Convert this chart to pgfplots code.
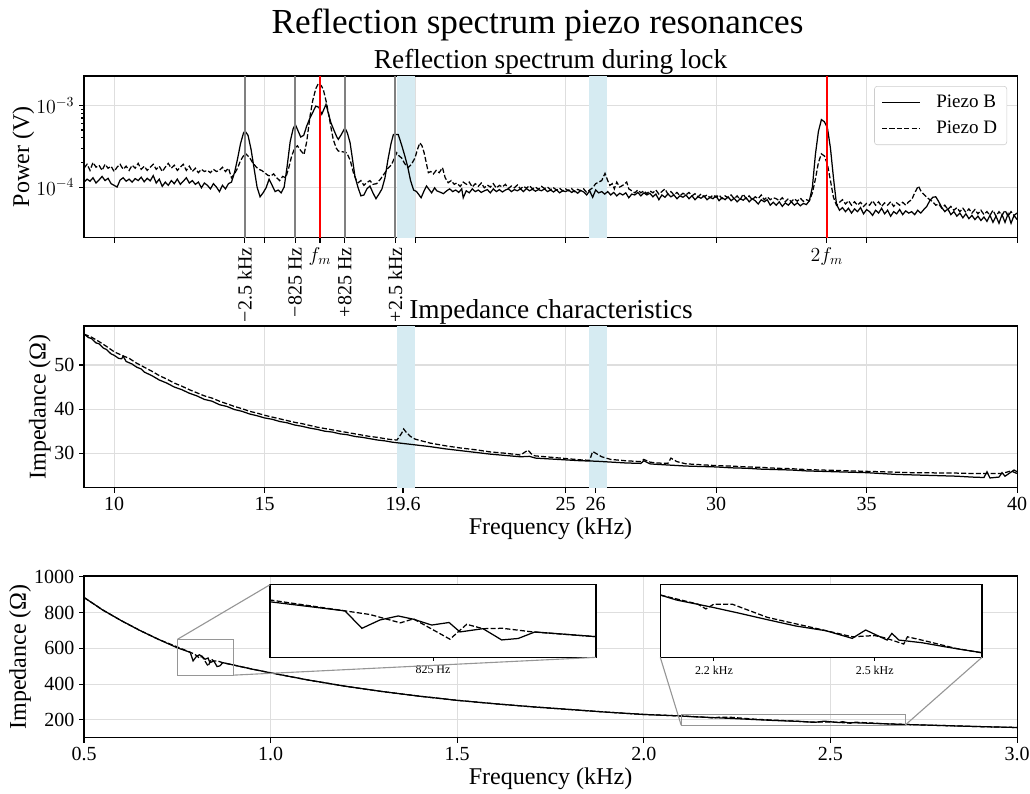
\documentclass[border=0pt]{standalone}
\usepackage{fontspec}
\setmainfont{Liberation Serif}
\usepackage{graphicx}
\usepackage{pgfplots}
\pgfplotsset{compat=1.18}
\usepackage{pgfplotstable}
\definecolor{spanblue}{RGB}{214,235,242}
\definecolor{gridgray}{RGB}{222,222,222}
\definecolor{vgray}{RGB}{128,128,128}
\definecolor{lgdgray}{RGB}{204,204,204}
\definecolor{boxgray}{RGB}{150,150,150}

\pgfplotstableread[row sep=\\]{
0.50 885\\ 0.55 815\\ 0.60 755\\ 0.65 700\\ 0.70 650\\ 0.75 603\\ 0.7845 578\\ 0.7923 530\\ 0.8006 553\\ 0.809 564\\ 0.816 555\\ 0.8244 539\\ 0.8324 546\\ 0.8374 520\\ 0.848 529\\ 0.8566 498\\ 0.8642 502\\ 0.8719 520\\ 0.90 507\\ 0.95 484\\ 1.00 463\\ 1.10 423\\ 1.20 388\\ 1.30 358\\ 1.40 332\\ 1.50 309\\ 1.60 290\\ 1.70 273\\ 1.80 258\\ 1.90 243\\ 2.00 230\\ 2.10 221.5\\ 2.13 217.4\\ 2.198 211.3\\ 2.248 206.4\\ 2.297 201.4\\ 2.353 195.9\\ 2.409 192\\ 2.458 185.7\\ 2.483 192.6\\ 2.523 184.3\\ 2.532 189.8\\ 2.545 184.3\\ 2.588 182.1\\ 2.637 178.3\\ 2.70 173.8\\ 2.80 168\\ 2.90 162\\ 3.00 157\\
}\botB
\pgfplotstableread[row sep=\\]{
0.50 885\\ 0.55 815\\ 0.60 755\\ 0.65 700\\ 0.70 650\\ 0.75 608\\ 0.796 568\\ 0.81 545\\ 0.816 556\\ 0.8328 500\\ 0.8405 541\\ 0.848 529\\ 0.857 530\\ 0.871 520\\ 0.90 507\\ 0.95 484\\ 1.00 463\\ 1.10 423\\ 1.20 388\\ 1.30 358\\ 1.40 332\\ 1.50 309\\ 1.60 290\\ 1.70 273\\ 1.80 258\\ 1.90 243\\ 2.00 230\\ 2.10 221.5\\ 2.17 214\\ 2.185 210\\ 2.2 214\\ 2.235 213.8\\ 2.3 203\\ 2.4 193\\ 2.458 187\\ 2.5 188\\ 2.52 186\\ 2.554 181\\ 2.561 187\\ 2.6 183\\ 2.65 177.5\\ 2.70 173.8\\ 2.80 168\\ 2.90 162\\ 3.00 157\\
}\botD

\pgfplotsset{
  myaxis/.style={
    scale only axis, width=671.8bp, height=116.4bp,
    anchor=north west,
    axis line style={black, line width=0.8bp},
    tick align=outside, tick style={black, line width=0.8bp},
    major tick length=3.5bp, minor tick length=2bp,
    xtick pos=bottom, ytick pos=left,
    grid=major, major grid style={gridgray, line width=0.8bp},
    tick label style={font=\fontsize{14.4bp}{16bp}\selectfont},
    label style={font=\fontsize{17.3bp}{20bp}\selectfont},
    /pgf/number format/assume math mode=true,
    /pgf/number format/1000 sep={},
  },
  inset/.style={
    scale only axis, anchor=north west,
    axis background/.style={fill=white},
    axis line style={black, line width=0.8bp},
    tick align=outside, tick style={black, line width=0.6bp},
    major tick length=2.5bp,
    xtick pos=bottom, ytick=\empty,
    tick label style={font=\fontsize{8.6bp}{10bp}\selectfont},
  },
  sB/.style={black, line width=0.9bp},
  sD/.style={black, line width=0.9bp, dash pattern=on 3.7bp off 1.6bp},
}

\begin{document}
\begin{tikzpicture}
\path[use as bounding box] (0,0) rectangle (741.6bp,-571bp);

\node[font=\fontsize{25.3bp}{30bp}\selectfont, anchor=base] at (387bp,-23.8bp) {Reflection spectrum piezo resonances};
\node[font=\fontsize{19.7bp}{24bp}\selectfont, anchor=base] at (396.4bp,-49bp) {Reflection spectrum during lock};

% ---------------- top panel ----------------
\begin{axis}[myaxis, at={(60.48bp,-54.72bp)},
  ymode=log, xmin=9, xmax=40, ymin=2.4e-5, ymax=2.29e-3,
  xtick={10,15,20,25,30,35,40}, xticklabels={},
  extra x ticks={14.34,16.015,16.84,17.665,19.34,33.68},
  extra x tick labels={\rotatebox{90}{−2.5 kHz},\rotatebox{90}{−825 Hz},$f_m$,\rotatebox{90}{+825 Hz},\rotatebox{90}{+2.5 kHz},$2f_m$},
  extra x tick style={grid=none},
  ytick={1e-4,1e-3},
  ylabel={Power (V)},
  ylabel style={at={(axis description cs:-0.065,0.5)}, anchor=center},
  legend style={at={(1,1)}, anchor=north east, xshift=-7.2bp, yshift=-7.2bp,
    draw=lgdgray, fill=white, rounded corners=2bp,
    font=\fontsize{13.7bp}{16bp}\selectfont, inner xsep=5bp, inner ysep=4.5bp, row sep=4bp,
    /tikz/every odd column/.append style={column sep=9bp}},
  legend cell align=left,
  legend image code/.code={\draw[#1] (0bp,0bp) -- (27.6bp,0bp);},
]
\addplot[draw=none, fill=spanblue, forget plot] coordinates {(19.4,1e-6) (20.0,1e-6) (20.0,1) (19.4,1)};
\addplot[draw=none, fill=spanblue, forget plot] coordinates {(25.78,1e-6) (26.38,1e-6) (26.38,1) (25.78,1)};

\addplot[sB] table[row sep=\\, y expr=\thisrowno{1}*1e-4] {
9.0 1.15\\ 9.1 1.25\\ 9.2 1.18\\ 9.3 1.30\\ 9.4 1.12\\ 9.5 1.22\\ 9.6 1.35\\ 9.7 1.20\\ 9.8 1.28\\ 9.9 1.10\\ 10.0 1.05\\ 10.1 1.0\\ 10.2 1.22\\ 10.3 1.30\\ 10.4 1.18\\ 10.5 1.25\\ 10.6 1.15\\ 10.7 1.27\\ 10.8 1.20\\ 10.9 1.32\\ 11.0 1.16\\ 11.1 1.28\\ 11.2 1.19\\ 11.3 1.38\\ 11.4 1.12\\ 11.5 1.25\\ 11.6 1.02\\ 11.7 1.15\\ 11.8 1.05\\ 11.9 1.20\\ 12.0 1.10\\ 12.1 1.25\\ 12.2 1.08\\ 12.3 1.18\\ 12.4 1.30\\ 12.5 1.12\\ 12.6 1.20\\ 12.7 1.08\\ 12.8 1.15\\ 12.9 0.98\\ 13.0 1.12\\ 13.1 1.05\\ 13.2 0.95\\ 13.3 1.10\\ 13.4 1.0\\ 13.5 0.88\\ 13.6 1.05\\ 13.7 0.95\\ 13.8 1.10\\ 13.9 1.15\\
14.0 1.5\\ 14.1 2.2\\ 14.2 3.4\\ 14.3 4.6\\ 14.35 4.85\\ 14.45 4.3\\ 14.55 2.9\\ 14.65 1.7\\ 14.75 1.0\\ 14.85 0.76\\ 14.95 0.85\\ 15.05 0.98\\ 15.15 1.25\\ 15.25 1.05\\ 15.35 0.88\\ 15.45 0.92\\ 15.55 0.85\\ 15.65 1.0\\ 15.75 1.8\\ 15.85 3.6\\ 15.95 5.2\\ 16.02 5.85\\ 16.1 5.0\\ 16.2 4.1\\ 16.3 4.3\\ 16.4 5.6\\ 16.5 6.9\\ 16.6 8.2\\ 16.7 9.8\\ 16.8 9.5\\ 16.9 7.8\\ 17.0 9.5\\ 17.04 10.3\\ 17.1 8.5\\ 17.2 6.2\\ 17.3 5.0\\ 17.4 4.1\\ 17.45 3.84\\ 17.55 4.4\\ 17.67 5.3\\ 17.75 4.6\\ 17.84 3.5\\ 17.92 2.2\\ 18.0 1.36\\ 18.1 1.0\\ 18.2 0.78\\ 18.3 0.8\\ 18.4 0.95\\ 18.5 1.03\\ 18.6 0.85\\ 18.7 0.72\\ 18.8 0.82\\ 18.9 0.95\\ 19.0 1.3\\ 19.1 2.18\\ 19.2 3.4\\ 19.28 4.41\\ 19.44 4.4\\ 19.55 3.3\\ 19.66 2.4\\ 19.75 1.8\\ 19.85 1.2\\ 19.95 0.92\\ 20.05 0.88\\ 20.2 0.74\\ 20.3 0.9\\ 20.38 1.03\\ 20.48 0.92\\ 20.55 0.85\\ 20.65 0.98\\ 20.72 0.9\\ 20.85 0.86\\ 20.94 0.83\\ 21.05 0.9\\ 21.15 0.95\\ 21.25 0.88\\ 21.35 0.92\\ 21.45 0.86\\ 21.55 0.95\\ 21.6 0.74\\ 21.7 0.9\\ 21.8 0.85\\ 21.9 0.95\\
22.0 0.88\\ 22.1 0.92\\ 22.2 0.86\\ 22.3 0.9\\ 22.4 0.93\\ 22.5 0.85\\ 22.6 0.95\\ 22.7 0.88\\ 22.8 0.93\\ 22.9 0.87\\ 23.0 0.92\\ 23.1 0.95\\ 23.2 0.88\\ 23.3 0.93\\ 23.4 0.9\\ 23.5 0.95\\ 23.6 0.88\\ 23.7 0.96\\ 23.8 0.9\\ 23.9 0.94\\ 24.0 0.89\\ 24.1 0.93\\ 24.2 0.9\\ 24.3 0.95\\ 24.4 0.88\\ 24.5 0.92\\ 24.6 0.87\\ 24.7 0.93\\ 24.8 0.85\\ 24.9 0.9\\ 25.0 0.88\\ 25.1 0.92\\ 25.2 0.86\\ 25.3 0.9\\ 25.4 0.84\\ 25.5 0.91\\ 25.6 0.87\\ 25.7 0.8\\ 25.8 0.9\\ 25.9 0.75\\ 26.0 0.92\\ 26.1 0.85\\ 26.2 0.88\\ 26.3 0.82\\ 26.4 0.88\\ 26.5 0.8\\ 26.6 0.86\\ 26.7 0.78\\ 26.8 0.84\\ 26.9 0.8\\ 27.0 0.85\\ 27.1 0.74\\ 27.2 0.82\\ 27.3 0.8\\ 27.4 0.86\\ 27.5 0.78\\ 27.6 0.85\\ 27.7 0.8\\ 27.8 0.84\\ 27.9 0.76\\ 28.0 0.82\\ 28.1 0.7\\ 28.2 0.8\\ 28.3 0.75\\ 28.4 0.82\\ 28.5 0.76\\ 28.6 0.8\\ 28.7 0.72\\ 28.8 0.78\\ 28.9 0.75\\ 29.0 0.8\\ 29.1 0.72\\ 29.2 0.78\\ 29.3 0.7\\ 29.4 0.76\\ 29.5 0.73\\ 29.6 0.78\\ 29.7 0.7\\ 29.8 0.75\\ 29.9 0.72\\
30.0 0.78\\ 30.1 0.68\\ 30.2 0.74\\ 30.3 0.7\\ 30.4 0.76\\ 30.5 0.68\\ 30.6 0.73\\ 30.7 0.66\\ 30.8 0.72\\ 30.9 0.69\\ 31.0 0.74\\ 31.1 0.66\\ 31.2 0.72\\ 31.3 0.68\\ 31.4 0.62\\ 31.5 0.7\\ 31.6 0.66\\ 31.7 0.7\\ 31.8 0.6\\ 31.9 0.65\\ 32.0 0.6\\ 32.1 0.66\\ 32.2 0.58\\ 32.3 0.64\\ 32.4 0.6\\ 32.5 0.66\\ 32.6 0.6\\ 32.7 0.64\\ 32.8 0.59\\ 32.9 0.63\\ 33.0 0.61\\ 33.1 0.68\\ 33.2 1.0\\ 33.3 2.5\\ 33.4 4.8\\ 33.5 6.7\\ 33.6 6.3\\ 33.7 5.3\\ 33.8 3.0\\ 33.9 1.3\\ 34.0 0.62\\ 34.1 0.52\\ 34.2 0.56\\ 34.3 0.5\\ 34.4 0.55\\ 34.5 0.48\\ 34.6 0.54\\ 34.7 0.5\\ 34.8 0.56\\ 34.9 0.47\\ 35.0 0.53\\ 35.1 0.5\\ 35.2 0.45\\ 35.3 0.52\\ 35.4 0.48\\ 35.5 0.55\\ 35.6 0.47\\ 35.7 0.52\\ 35.8 0.44\\ 35.9 0.5\\ 36.0 0.47\\ 36.1 0.53\\ 36.2 0.46\\ 36.3 0.51\\ 36.4 0.48\\ 36.5 0.5\\ 36.6 0.46\\ 36.7 0.52\\ 36.8 0.48\\ 36.9 0.53\\ 37.0 0.58\\ 37.1 0.68\\ 37.2 0.75\\ 37.3 0.76\\ 37.4 0.66\\ 37.5 0.56\\ 37.6 0.5\\ 37.7 0.54\\ 37.8 0.46\\ 37.9 0.5\\ 38.0 0.44\\ 38.1 0.48\\ 38.2 0.42\\ 38.3 0.47\\ 38.4 0.41\\ 38.5 0.45\\ 38.6 0.4\\ 38.7 0.44\\ 38.8 0.39\\ 38.9 0.43\\ 39.0 0.38\\ 39.1 0.45\\ 39.2 0.37\\ 39.3 0.44\\ 39.4 0.36\\ 39.5 0.46\\ 39.6 0.37\\ 39.7 0.47\\ 39.8 0.36\\ 39.9 0.45\\ 40.0 0.4\\
};
\addlegendentry{Piezo B}

\addplot[sD] table[row sep=\\, y expr=\thisrowno{1}*1e-4] {
9.0 1.7\\ 9.1 1.9\\ 9.2 1.6\\ 9.3 2.0\\ 9.4 1.75\\ 9.5 1.85\\ 9.6 1.6\\ 9.7 1.9\\ 9.8 1.7\\ 9.9 1.8\\ 10.0 1.55\\ 10.1 1.75\\ 10.2 1.9\\ 10.3 1.65\\ 10.4 1.8\\ 10.5 1.6\\ 10.6 1.85\\ 10.7 1.7\\ 10.8 1.95\\ 10.9 1.65\\ 11.0 1.8\\ 11.1 1.6\\ 11.2 1.75\\ 11.3 1.9\\ 11.4 1.65\\ 11.5 1.8\\ 11.6 1.55\\ 11.7 1.75\\ 11.8 1.95\\ 11.9 1.7\\ 12.0 1.85\\ 12.1 1.6\\ 12.2 1.75\\ 12.3 1.9\\ 12.4 1.6\\ 12.5 1.8\\ 12.6 1.55\\ 12.7 1.7\\ 12.8 1.5\\ 12.9 1.65\\ 13.0 1.55\\ 13.1 1.6\\ 13.2 1.5\\ 13.3 1.65\\ 13.4 1.55\\ 13.5 1.6\\ 13.6 1.75\\ 13.7 1.55\\ 13.8 1.7\\ 13.9 1.3\\
14.0 1.45\\ 14.1 1.7\\ 14.2 2.1\\ 14.35 2.6\\ 14.5 2.3\\ 14.6 2.0\\ 14.7 1.8\\ 14.8 1.65\\ 14.9 1.6\\ 15.0 1.5\\ 15.1 1.4\\ 15.2 1.36\\ 15.3 1.45\\ 15.4 1.3\\ 15.5 1.2\\ 15.6 1.35\\ 15.7 1.3\\ 15.8 1.7\\ 15.9 2.4\\ 16.0 3.0\\ 16.09 3.2\\ 16.2 2.8\\ 16.31 2.5\\ 16.4 3.6\\ 16.51 7.4\\ 16.6 11.5\\ 16.7 16.0\\ 16.79 18.6\\ 16.88 17.5\\ 16.95 15.7\\ 17.05 11.0\\ 17.12 8.1\\ 17.2 5.5\\ 17.28 3.84\\ 17.38 3.0\\ 17.45 2.76\\ 17.6 2.7\\ 17.73 2.63\\ 17.85 2.1\\ 17.95 1.5\\ 18.05 1.2\\ 18.11 1.13\\ 18.2 1.2\\ 18.3 1.05\\ 18.39 1.13\\ 18.5 1.2\\ 18.6 1.08\\ 18.72 1.1\\ 18.85 1.25\\ 19.0 1.5\\ 19.1 1.7\\ 19.22 1.89\\ 19.32 2.3\\ 19.39 2.63\\ 19.47 2.4\\ 19.55 2.28\\ 19.65 1.95\\ 19.77 1.73\\ 19.88 1.9\\ 19.998 2.28\\ 20.08 2.9\\ 20.16 3.48\\ 20.23 3.2\\ 20.3 2.63\\ 20.37 2.0\\ 20.44 1.5\\ 20.52 1.55\\ 20.61 1.45\\ 20.7 1.6\\ 20.8 1.5\\ 20.91 1.73\\ 21.0 1.3\\ 21.1 1.13\\ 21.2 1.2\\ 21.3 1.08\\ 21.38 1.12\\ 21.5 1.02\\ 21.6 1.15\\ 21.71 1.08\\ 21.8 1.15\\ 21.9 1.0\\
22.0 1.1\\ 22.1 1.02\\ 22.2 1.12\\ 22.3 0.98\\ 22.4 1.06\\ 22.5 1.0\\ 22.6 1.1\\ 22.7 0.97\\ 22.8 1.05\\ 22.9 1.0\\ 23.0 1.08\\ 23.1 0.96\\ 23.2 1.03\\ 23.3 0.98\\ 23.4 1.06\\ 23.5 0.95\\ 23.6 1.02\\ 23.7 0.97\\ 23.8 1.04\\ 23.9 0.95\\ 24.0 1.0\\ 24.1 0.94\\ 24.2 1.02\\ 24.3 0.96\\ 24.4 1.0\\ 24.5 0.93\\ 24.6 0.98\\ 24.7 0.92\\ 24.8 0.97\\ 24.9 0.9\\ 25.0 0.95\\ 25.1 0.9\\ 25.2 0.96\\ 25.3 0.88\\ 25.4 0.94\\ 25.5 0.9\\ 25.6 0.95\\ 25.7 0.86\\ 25.8 0.92\\ 25.9 0.98\\ 26.0 1.1\\ 26.1 1.15\\ 26.2 1.2\\ 26.31 1.47\\ 26.4 1.2\\ 26.47 1.05\\ 26.55 1.1\\ 26.62 0.95\\ 26.7 1.15\\ 26.8 1.0\\ 26.9 1.05\\ 27.03 1.15\\ 27.1 0.95\\ 27.2 0.9\\ 27.3 0.85\\ 27.4 0.92\\ 27.5 0.85\\ 27.6 0.9\\ 27.7 0.83\\ 27.8 0.9\\ 27.9 0.85\\ 28.0 0.92\\ 28.1 0.82\\ 28.2 0.88\\ 28.3 0.95\\ 28.4 0.82\\ 28.5 0.88\\ 28.6 0.8\\ 28.7 0.86\\ 28.8 0.78\\ 28.9 0.84\\ 29.0 0.8\\ 29.1 0.86\\ 29.2 0.78\\ 29.3 0.83\\ 29.4 0.76\\ 29.5 0.82\\ 29.6 0.76\\ 29.7 0.8\\ 29.8 0.74\\ 29.9 0.8\\
30.0 0.75\\ 30.1 0.8\\ 30.2 0.72\\ 30.3 0.78\\ 30.4 0.74\\ 30.5 0.8\\ 30.6 0.72\\ 30.7 0.78\\ 30.8 0.7\\ 30.9 0.82\\ 31.0 0.72\\ 31.1 0.78\\ 31.2 0.7\\ 31.3 0.76\\ 31.4 0.72\\ 31.5 0.8\\ 31.6 0.7\\ 31.7 0.76\\ 31.8 0.7\\ 31.9 0.74\\ 32.0 0.72\\ 32.1 0.68\\ 32.2 0.74\\ 32.3 0.66\\ 32.4 0.72\\ 32.5 0.66\\ 32.6 0.72\\ 32.7 0.67\\ 32.8 0.73\\ 32.9 0.67\\ 33.0 0.7\\ 33.1 0.68\\ 33.2 0.85\\ 33.3 1.25\\ 33.4 2.0\\ 33.5 2.55\\ 33.6 2.4\\ 33.7 1.9\\ 33.8 1.2\\ 33.9 0.75\\ 34.0 0.6\\ 34.1 0.65\\ 34.2 0.7\\ 34.3 0.62\\ 34.4 0.68\\ 34.5 0.6\\ 34.6 0.66\\ 34.7 0.6\\ 34.8 0.65\\ 34.9 0.58\\ 35.0 0.63\\ 35.1 0.6\\ 35.2 0.68\\ 35.3 0.6\\ 35.4 0.66\\ 35.5 0.58\\ 35.6 0.64\\ 35.7 0.6\\ 35.8 0.66\\ 35.9 0.58\\ 36.0 0.64\\ 36.1 0.6\\ 36.2 0.65\\ 36.3 0.6\\ 36.4 0.66\\ 36.5 0.7\\ 36.6 0.85\\ 36.72 1.03\\ 36.8 0.9\\ 36.88 0.83\\ 37.0 0.75\\ 37.1 0.7\\ 37.2 0.66\\ 37.3 0.6\\ 37.4 0.62\\ 37.5 0.55\\ 37.6 0.6\\ 37.7 0.53\\ 37.8 0.58\\ 37.9 0.52\\ 38.0 0.56\\ 38.1 0.5\\ 38.2 0.55\\ 38.3 0.49\\ 38.4 0.54\\ 38.5 0.48\\ 38.6 0.53\\ 38.7 0.47\\ 38.8 0.52\\ 38.9 0.46\\ 39.0 0.5\\ 39.1 0.45\\ 39.2 0.52\\ 39.3 0.44\\ 39.4 0.5\\ 39.5 0.45\\ 39.6 0.52\\ 39.7 0.44\\ 39.8 0.5\\ 39.9 0.45\\ 40.0 0.48\\
};
\addlegendentry{Piezo D}

\addplot[vgray, line width=1.3bp, forget plot] coordinates {(14.34,1e-6) (14.34,1)};
\addplot[vgray, line width=1.3bp, forget plot] coordinates {(16.015,1e-6) (16.015,1)};
\addplot[vgray, line width=1.3bp, forget plot] coordinates {(17.665,1e-6) (17.665,1)};
\addplot[vgray, line width=1.3bp, forget plot] coordinates {(19.34,1e-6) (19.34,1)};
\addplot[red, line width=1.3bp, forget plot] coordinates {(16.84,1e-6) (16.84,1)};
\addplot[red, line width=1.3bp, forget plot] coordinates {(33.68,1e-6) (33.68,1)};
\end{axis}

\node[font=\fontsize{19.7bp}{24bp}\selectfont, anchor=base] at (396.7bp,-229bp) {Impedance characteristics};

% ---------------- middle panel ----------------
\begin{axis}[myaxis, at={(60.48bp,-234.72bp)},
  xmin=9, xmax=40, ymin=22.2, ymax=58.83,
  xtick={10,15,19.6,25,26,30,35,40}, xticklabels={10,15,19.6,25,26,30,35,40},
  ytick={30,40,50},
  ylabel={Impedance (Ω)},
  ylabel style={at={(axis description cs:-0.0472,0.5)}, anchor=center},
  xlabel={Frequency (kHz)},
  xlabel style={at={(axis description cs:0.5,0)}, anchor=base, yshift=-34bp},
]
\addplot[draw=none, fill=spanblue, forget plot] coordinates {(19.4,0) (20.0,0) (20.0,100) (19.4,100)};
\addplot[draw=none, fill=spanblue, forget plot] coordinates {(25.78,0) (26.38,0) (26.38,100) (25.78,100)};
\addplot[sB] table[row sep=\\] {
9.0 57.0\\ 9.15 56.2\\ 9.25 56.0\\ 9.4 55.0\\ 9.5 54.8\\ 9.65 53.8\\ 9.75 53.5\\ 9.9 52.5\\ 10.0 52.2\\ 10.15 51.5\\ 10.25 51.4\\ 10.3 52.0\\ 10.4 50.8\\ 10.6 50.2\\ 10.75 49.5\\ 10.9 49.1\\ 11.0 48.4\\ 11.25 47.6\\ 11.5 46.6\\ 11.75 45.9\\ 12.0 45.0\\ 12.25 44.4\\ 12.5 43.6\\ 12.75 43.0\\ 13.0 42.2\\ 13.25 41.8\\ 13.5 41.0\\ 13.75 40.6\\ 14.0 39.9\\ 14.25 39.5\\ 14.5 38.9\\ 14.75 38.5\\ 15.0 38.0\\ 15.25 37.7\\ 15.5 37.2\\ 15.75 36.9\\ 16.0 36.4\\ 16.25 36.1\\ 16.5 35.7\\ 16.75 35.4\\ 17.0 35.0\\ 17.25 34.8\\ 17.5 34.4\\ 17.75 34.2\\ 18.0 33.8\\ 18.25 33.6\\ 18.5 33.3\\ 18.75 33.0\\ 19.0 32.8\\ 19.25 32.5\\ 19.5 32.3\\ 19.75 32.1\\ 20.0 31.9\\ 20.5 31.5\\ 21.0 31.0\\ 21.5 30.6\\ 22.0 30.2\\ 22.5 29.8\\ 23.0 29.5\\ 23.5 29.2\\ 23.8 29.3\\ 24.0 28.9\\ 24.5 28.7\\ 25.0 28.5\\ 25.5 28.3\\ 26.0 28.2\\ 26.5 28.0\\ 27.0 27.8\\ 27.5 27.7\\ 27.6 28.3\\ 27.8 27.6\\ 28.0 27.5\\ 28.5 27.3\\ 29.0 27.1\\ 29.5 27.0\\ 30.0 26.9\\ 30.5 26.7\\ 31.0 26.6\\ 31.5 26.4\\ 32.0 26.3\\ 32.5 26.2\\ 33.0 26.0\\ 33.5 25.9\\ 34.0 25.8\\ 34.5 25.7\\ 35.0 25.6\\ 35.5 25.4\\ 36.0 25.2\\ 36.5 25.1\\ 37.0 25.0\\ 37.5 24.9\\ 38.0 24.8\\ 38.5 24.6\\ 38.9 24.5\\ 39.0 25.8\\ 39.1 24.4\\ 39.4 24.6\\ 39.5 25.6\\ 39.6 24.8\\ 39.9 26.2\\ 40.0 25.8\\
};
\addplot[sD] table[row sep=\\] {
9.0 57.0\\ 9.25 56.3\\ 9.5 55.3\\ 9.75 54.2\\ 10.0 53.0\\ 10.25 52.2\\ 10.5 51.5\\ 10.75 50.4\\ 11.0 49.5\\ 11.25 48.6\\ 11.5 47.6\\ 11.75 46.8\\ 12.0 45.9\\ 12.25 45.2\\ 12.5 44.4\\ 12.75 43.7\\ 13.0 43.0\\ 13.25 42.5\\ 13.5 41.8\\ 13.75 41.2\\ 14.0 40.6\\ 14.25 40.1\\ 14.5 39.5\\ 14.75 39.1\\ 15.0 38.6\\ 15.25 38.2\\ 15.5 37.8\\ 15.75 37.4\\ 16.0 37.0\\ 16.25 36.7\\ 16.5 36.3\\ 16.75 35.9\\ 17.0 35.6\\ 17.25 35.3\\ 17.5 35.0\\ 17.75 34.7\\ 18.0 34.4\\ 18.25 34.1\\ 18.5 33.8\\ 18.75 33.6\\ 19.0 33.3\\ 19.2 33.1\\ 19.4 33.0\\ 19.55 34.5\\ 19.62 35.5\\ 19.7 34.8\\ 19.85 33.8\\ 20.0 33.2\\ 20.5 32.3\\ 21.0 31.7\\ 21.5 31.2\\ 22.0 30.8\\ 22.5 30.3\\ 23.0 30.0\\ 23.5 29.6\\ 23.75 30.7\\ 23.9 29.6\\ 24.0 29.4\\ 24.5 29.1\\ 25.0 28.8\\ 25.5 28.5\\ 25.8 28.4\\ 25.9 30.4\\ 26.0 30.0\\ 26.2 29.2\\ 26.5 28.6\\ 27.0 28.3\\ 27.5 28.1\\ 27.6 28.6\\ 27.8 28.0\\ 28.0 27.8\\ 28.4 27.7\\ 28.5 28.9\\ 28.7 28.1\\ 29.0 27.6\\ 29.5 27.4\\ 30.0 27.2\\ 30.5 27.1\\ 31.0 26.9\\ 31.5 26.8\\ 32.0 26.6\\ 32.5 26.5\\ 33.0 26.3\\ 33.5 26.2\\ 34.0 26.1\\ 34.5 26.0\\ 35.0 25.9\\ 35.5 25.8\\ 36.0 25.7\\ 36.5 25.6\\ 37.0 25.6\\ 37.5 25.5\\ 38.0 25.5\\ 38.5 25.4\\ 39.0 25.4\\ 39.5 25.4\\ 39.8 26.0\\ 40.0 25.4\\
};
\end{axis}

% ---------------- bottom panel ----------------
\begin{axis}[myaxis, at={(60.48bp,-414.72bp)},
  xmin=0.5, xmax=3, ymin=100, ymax=1005,
  xtick={0.5,1,1.5,2,2.5,3}, xticklabels={0.5,1.0,1.5,2.0,2.5,3.0},
  ytick={200,400,600,800,1000}, yticklabels={200,400,600,800,1000},
  ylabel={Impedance (Ω)},
  ylabel style={at={(axis description cs:-0.0686,0.5)}, anchor=center},
  xlabel={Frequency (kHz)},
  xlabel style={at={(axis description cs:0.5,0)}, anchor=base, yshift=-34bp},
]
\addplot[sB] table {\botB};
\addplot[sD] table {\botD};
\draw[boxgray, line width=0.8bp] (axis cs:0.75,450) rectangle (axis cs:0.9,650);
\draw[boxgray, line width=0.8bp] (axis cs:2.1,170) rectangle (axis cs:2.7,230);
\coordinate (r1tl) at (axis cs:0.75,650);
\coordinate (r1br) at (axis cs:0.9,450);
\coordinate (r2bl) at (axis cs:2.1,170);
\coordinate (r2br) at (axis cs:2.7,170);
\end{axis}

\begin{axis}[inset, name=ins1, at={(194.4bp,-421bp)}, width=234.7bp, height=52.3bp,
  xmin=0.75, xmax=0.9, ymin=450, ymax=650,
  xtick={0.825}, xticklabels={825 Hz}]
\addplot[sB] table {\botB};
\addplot[sD] table {\botD};
\end{axis}

\begin{axis}[inset, name=ins2, at={(475.4bp,-421bp)}, width=231.6bp, height=52.3bp,
  xmin=2.1, xmax=2.7, ymin=170, ymax=230,
  xtick={2.2,2.5}, xticklabels={2.2 kHz,2.5 kHz}]
\addplot[sB] table {\botB};
\addplot[sD] table {\botD};
\end{axis}

\draw[boxgray, line width=0.8bp] (r1tl) -- (ins1.north west);
\draw[boxgray, line width=0.8bp] (r1br) -- (ins1.south east);
\draw[boxgray, line width=0.8bp] (r2bl) -- (ins2.south west);
\draw[boxgray, line width=0.8bp] (r2br) -- (ins2.south east);

\end{tikzpicture}
\end{document}
